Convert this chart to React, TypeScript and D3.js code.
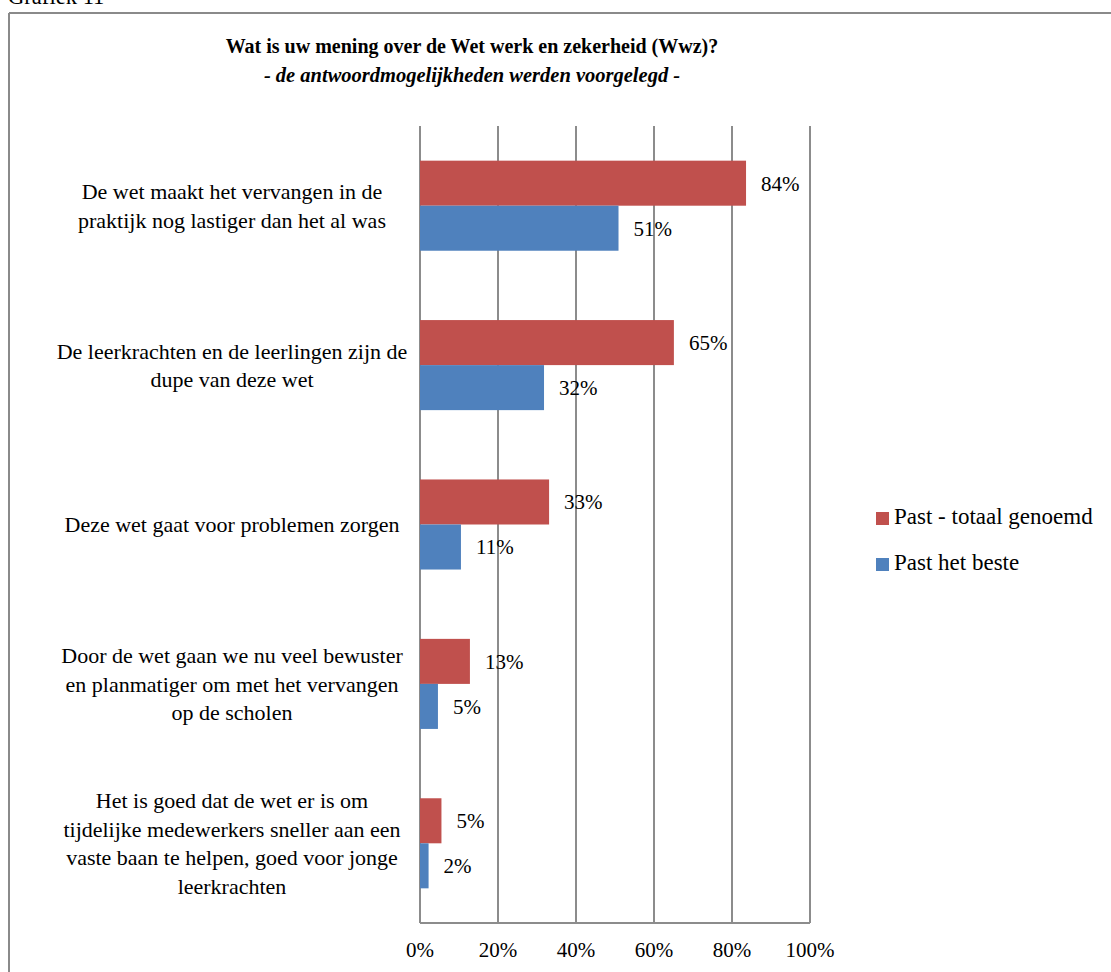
import React from "react";
import * as d3 from "d3";

const categories: string[][] = [
  ["De wet maakt het vervangen in de", "praktijk nog lastiger dan het al was"],
  ["De leerkrachten en de leerlingen zijn de", "dupe van deze wet"],
  ["Deze wet gaat voor problemen zorgen"],
  ["Door de wet gaan we nu veel bewuster", "en planmatiger om met het vervangen", "op de scholen"],
  ["Het is goed dat de wet er is om", "tijdelijke medewerkers sneller aan een", "vaste baan te helpen, goed voor jonge", "leerkrachten"],
];
const totaalValues = [83.6, 65.1, 33.1, 12.8, 5.5];
const totaalLabels = ["84%", "65%", "33%", "13%", "5%"];
const besteValues = [50.9, 31.8, 10.5, 4.6, 2.2];
const besteLabels = ["51%", "32%", "11%", "5%", "2%"];
const ticks = [0, 20, 40, 60, 80, 100];
const seriesNames = ["Past - totaal genoemd", "Past het beste"];
const colors = ["#C0504D", "#4F81BD"];

const FONT = "'Liberation Serif', 'DejaVu Serif', serif";

export default function App() {
  const W = 1111, H = 972;
  const left = 420, right = 810, top = 126, bottom = 923;
  const x = d3.scaleLinear().domain([0, 100]).range([left, right]);
  const y = d3.scaleBand<number>().domain(d3.range(categories.length)).range([top, bottom]).paddingInner(0.435).paddingOuter(0.2175);
  const bw = y.bandwidth() / 2;
  const gridColor = "#8c8c8c";
  const labelCx = 232;
  const lh = 28.6;
  return (
    <svg width={W} height={H} style={{ position: "absolute", left: 0, top: 0, background: "#fff", fontFamily: FONT }}>
      <text x={8} y={4} fontSize={22.6} fill="#000">Grafiek 11</text>
      <line x1={9} y1={13} x2={W} y2={13} stroke="#8a8a8a" strokeWidth={2} />
      <line x1={9} y1={13} x2={9} y2={H} stroke="#8a8a8a" strokeWidth={2} />
      <text x={472} y={53} textAnchor="middle" fontSize={20} fontWeight="bold">Wat is uw mening over de Wet werk en zekerheid (Wwz)?</text>
      <text x={472} y={82} textAnchor="middle" fontSize={20.5} fontStyle="italic" fontWeight="bold">- de antwoordmogelijkheden werden voorgelegd -</text>
      {ticks.map((t) => (
        <g key={t}>
          <line x1={x(t)} x2={x(t)} y1={top} y2={bottom} stroke={gridColor} strokeWidth={2} />
          <text x={x(t)} y={957} textAnchor="middle" fontSize={21}>{t}%</text>
        </g>
      ))}
      <line x1={left} x2={right} y1={bottom} y2={bottom} stroke={gridColor} strokeWidth={2} />
      {categories.map((lines, i) => {
        const cy = (y(i) as number) + y.bandwidth() / 2;
        const y0 = cy - ((lines.length - 1) * lh) / 2;
        return (
          <g key={i}>
            {lines.map((l, j) => (
              <text key={j} x={labelCx} y={y0 + j * lh} dy="0.35em" textAnchor="middle" fontSize={22}>{l}</text>
            ))}
            <rect x={x(0)} y={y(i) as number} width={x(totaalValues[i]) - x(0)} height={bw} fill={colors[0]} />
            <rect x={x(0)} y={(y(i) as number) + bw} width={x(besteValues[i]) - x(0)} height={bw} fill={colors[1]} />
            <text x={x(totaalValues[i]) + 15} y={(y(i) as number) + bw / 2} dy="0.35em" fontSize={21}>{totaalLabels[i]}</text>
            <text x={x(besteValues[i]) + 15} y={(y(i) as number) + bw * 1.5} dy="0.35em" fontSize={21}>{besteLabels[i]}</text>
          </g>
        );
      })}
      {seriesNames.map((s, i) => (
        <g key={s}>
          <rect x={876} y={512 + i * 46} width={13} height={13} fill={colors[i]} />
          <text x={894} y={524 + i * 46} fontSize={23}>{s}</text>
        </g>
      ))}
    </svg>
  );
}
